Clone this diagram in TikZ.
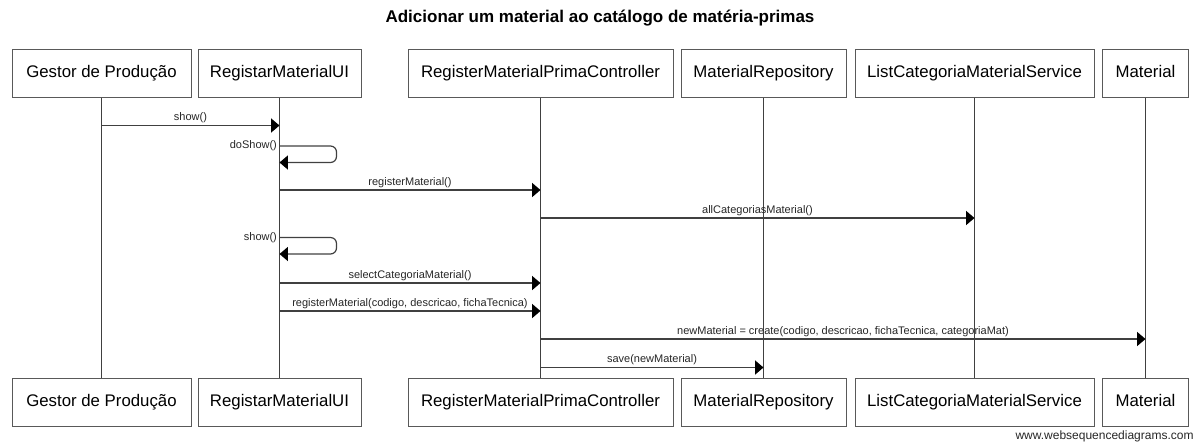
\documentclass[tikz,border=0pt]{standalone}
\usepackage{fontspec}
\setmainfont{Liberation Sans}
\usepackage{tikz}
\usetikzlibrary{arrows.meta, positioning, calc}

\begin{document}
\begin{tikzpicture}[x=0.5pt, y=-0.5pt,
  actor/.style={draw=black!65, line width=0.5pt, minimum height=24pt,
                inner sep=0pt, text height=6.2pt, text depth=1.8pt,
                font=\fontsize{8.4}{9}\selectfont, fill=white},
  lifeline/.style={draw=black!75, line width=0.5pt},
  msg/.style={-{Triangle[length=4.2pt, width=7pt, color=black]}, draw=black!75, line width=0.6pt},
  lbl/.style={font=\fontsize{5.5}{6.5}\selectfont, inner sep=1pt, text=black!85}
]
  \useasboundingbox (0,0) rectangle (1200,447);

  % Title
  \node[font=\fontsize{8.5}{10}\selectfont\bfseries] (title) at (600,18)
    {Adicionar um material ao catálogo de matéria-primas};

  % Participants (top and bottom boxes) and lifelines
  \foreach \id/\x/\w/\txt in {gp/101.5/179/{Gestor de Produção},
                              ui/279.5/163/RegistarMaterialUI,
                              ctrl/540.5/265/RegisterMaterialPrimaController,
                              repo/763.5/165/MaterialRepository,
                              srv/974.5/239/ListCategoriaMaterialService,
                              mat/1145.5/86/Material}
  {
    \node[actor, minimum width=\w*0.5pt] (\id-top) at (\x,73) {\txt};
    \node[actor, minimum width=\w*0.5pt] (\id-bot) at (\x,402.5) {\txt};
    \draw[lifeline] (\id-top) -- (\id-bot);
  }

  % Messages
  \foreach \from/\to/\y/\txt in {gp/ui/125.5/show(),
                                 ui/ctrl/190/registerMaterial(),
                                 ctrl/srv/218/allCategoriasMaterial(),
                                 ui/ctrl/283/selectCategoriaMaterial(),
                                 ui/ctrl/311/{registerMaterial(codigo, descricao, fichaTecnica)},
                                 ctrl/mat/339/{newMaterial = create(codigo, descricao, fichaTecnica, categoriaMat)},
                                 ctrl/repo/367.5/save(newMaterial)}
    \draw[msg] (\from-top |- 0,\y) -- node[lbl, above] {\txt} (\to-top |- 0,\y);

  % Self calls
  \foreach \y/\txt in {146/doShow(), 237.5/show()}
    \draw[msg, rounded corners=3pt] (ui-top |- 0,\y) node[lbl, left] {\txt}
      -- ++(57,0) -- ++(0,16.5) -- (ui-top |- 0,\y+16.5);

  % Watermark
  \node[font=\fontsize{6}{7}\selectfont, anchor=east, inner sep=0pt, text=black!85] (wm)
    at (1194,436) {www.websequencediagrams.com};
\end{tikzpicture}
\end{document}
